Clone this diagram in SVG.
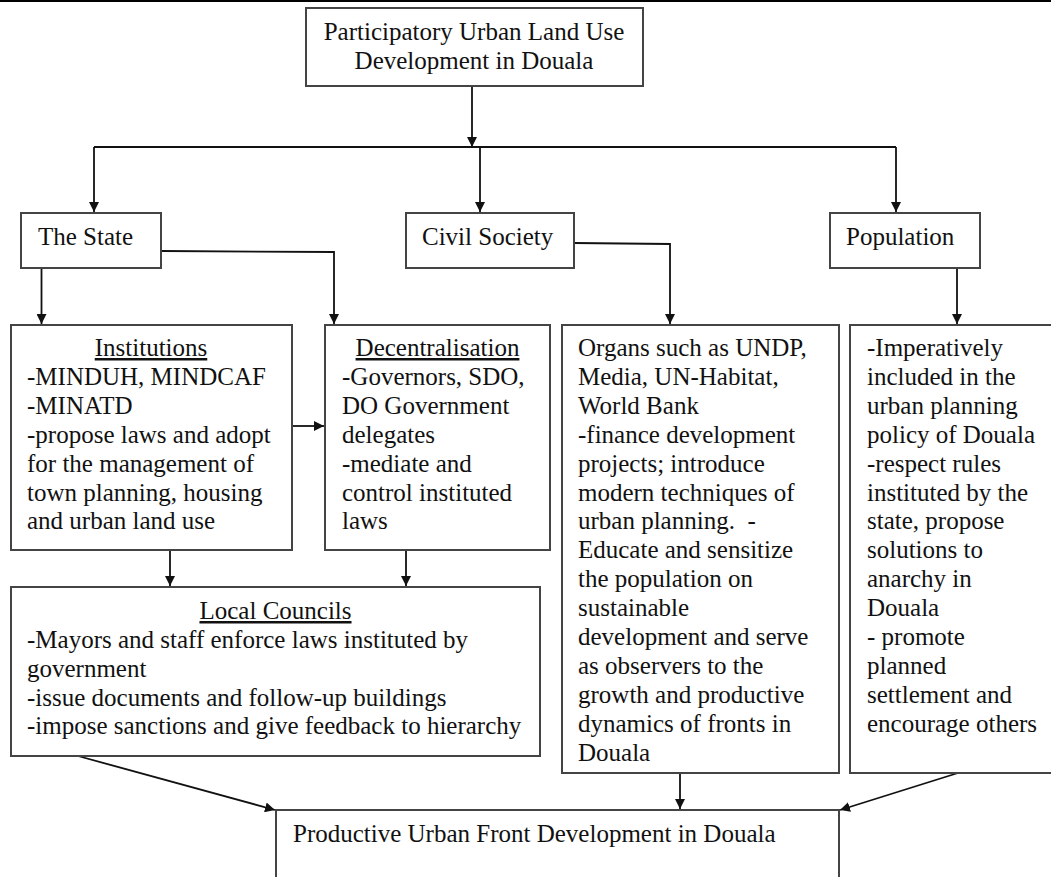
<svg xmlns="http://www.w3.org/2000/svg" width="1051" height="877" viewBox="0 0 1051 877">
<defs>
<style>
.box{fill:#fff;stroke:#444;stroke-width:2}
.t{font-family:"Liberation Serif","Times New Roman",serif;font-size:25px;fill:#111}
.c{text-anchor:middle}
.u{text-decoration:underline}
.ln{fill:none;stroke:#111;stroke-width:1.8}
</style>
<marker id="ah" viewBox="0 0 10 10" refX="10" refY="5" markerWidth="10" markerHeight="10" markerUnits="userSpaceOnUse" orient="auto">
<path d="M0,0 L10,5 L0,10 z" fill="#111"/>
</marker>
</defs>
<rect x="0" y="0" width="1051" height="877" fill="#fff"/>
<rect x="0" y="0" width="1051" height="2" fill="#000"/>

<g id="connectors">
<path class="ln" d="M472,86 V147" marker-end="url(#ah)"/>
<path class="ln" d="M94,147 H896"/>
<path class="ln" d="M94,147 V212" marker-end="url(#ah)"/>
<path class="ln" d="M480,147 V212" marker-end="url(#ah)"/>
<path class="ln" d="M896,147 V212" marker-end="url(#ah)"/>
<path class="ln" d="M41.5,268 V324" marker-end="url(#ah)"/>
<path class="ln" d="M162,251 L334,252 V324" marker-end="url(#ah)"/>
<path class="ln" d="M574,243 L670,244 V324" marker-end="url(#ah)"/>
<path class="ln" d="M957,268 V324" marker-end="url(#ah)"/>
<path class="ln" d="M292,426 H324" marker-end="url(#ah)"/>
<path class="ln" d="M170,550 V586" marker-end="url(#ah)"/>
<path class="ln" d="M406,550 V586" marker-end="url(#ah)"/>
<path class="ln" d="M78,756 L275,810" marker-end="url(#ah)"/>
<path class="ln" d="M680,773 V809" marker-end="url(#ah)"/>
<path class="ln" d="M958,773 L840,810" marker-end="url(#ah)"/>
</g>

<g id="root">
<rect class="box" x="306" y="8" width="337" height="78"/>
<text class="t c" x="474" y="40">Participatory Urban Land Use</text>
<text class="t c" x="474" y="69">Development in Douala</text>
</g>

<g id="state">
<rect class="box" x="21" y="213" width="140" height="55"/>
<text class="t" x="38" y="245">The State</text>
</g>

<g id="civil">
<rect class="box" x="406" y="213" width="168" height="55"/>
<text class="t" x="422" y="245">Civil Society</text>
</g>

<g id="population">
<rect class="box" x="830" y="213" width="150" height="55"/>
<text class="t" x="846" y="245">Population</text>
</g>

<g id="institutions">
<rect class="box" x="11" y="325" width="281" height="225"/>
<text class="t c u" x="151" y="356">Institutions</text>
<text class="t" x="27" y="385">-MINDUH, MINDCAF</text>
<text class="t" x="27" y="414">-MINATD</text>
<text class="t" x="27" y="443">-propose laws and adopt</text>
<text class="t" x="27" y="472">for the management of</text>
<text class="t" x="27" y="501">town planning, housing</text>
<text class="t" x="27" y="529">and urban land use</text>
</g>

<g id="decentralisation">
<rect class="box" x="325" y="325" width="225" height="225"/>
<text class="t c u" x="437.5" y="356">Decentralisation</text>
<text class="t" x="342" y="385">-Governors, SDO,</text>
<text class="t" x="342" y="414">DO Government</text>
<text class="t" x="342" y="443">delegates</text>
<text class="t" x="342" y="472">-mediate and</text>
<text class="t" x="342" y="501">control instituted</text>
<text class="t" x="342" y="529">laws</text>
</g>

<g id="organs">
<rect class="box" x="562" y="325" width="277" height="448"/>
<text class="t" x="578" y="356">Organs such as UNDP,</text>
<text class="t" x="578" y="385">Media, UN-Habitat,</text>
<text class="t" x="578" y="414">World Bank</text>
<text class="t" x="578" y="443">-finance development</text>
<text class="t" x="578" y="472">projects; introduce</text>
<text class="t" x="578" y="501">modern techniques of</text>
<text class="t" x="578" y="529" xml:space="preserve">urban planning.  -</text>
<text class="t" x="578" y="558">Educate and sensitize</text>
<text class="t" x="578" y="587">the population on</text>
<text class="t" x="578" y="616">sustainable</text>
<text class="t" x="578" y="645">development and serve</text>
<text class="t" x="578" y="674">as observers to the</text>
<text class="t" x="578" y="703">growth and productive</text>
<text class="t" x="578" y="732">dynamics of fronts in</text>
<text class="t" x="578" y="761">Douala</text>
</g>

<g id="population-roles">
<rect class="box" x="850" y="325" width="215" height="448"/>
<text class="t" x="867" y="356">-Imperatively</text>
<text class="t" x="867" y="385">included in the</text>
<text class="t" x="867" y="414">urban planning</text>
<text class="t" x="867" y="443">policy of Douala</text>
<text class="t" x="867" y="472">-respect rules</text>
<text class="t" x="867" y="501">instituted by the</text>
<text class="t" x="867" y="529">state, propose</text>
<text class="t" x="867" y="558">solutions to</text>
<text class="t" x="867" y="587">anarchy in</text>
<text class="t" x="867" y="616">Douala</text>
<text class="t" x="867" y="645">- promote</text>
<text class="t" x="867" y="674">planned</text>
<text class="t" x="867" y="703">settlement and</text>
<text class="t" x="867" y="732">encourage others</text>
</g>

<g id="local-councils">
<rect class="box" x="11" y="587" width="529" height="169"/>
<text class="t c u" x="275.5" y="619">Local Councils</text>
<text class="t" x="27" y="648">-Mayors and staff enforce laws instituted by</text>
<text class="t" x="27" y="677">government</text>
<text class="t" x="27" y="706">-issue documents and follow-up buildings</text>
<text class="t" x="27" y="734">-impose sanctions and give feedback to hierarchy</text>
</g>

<g id="outcome">
<rect class="box" x="276" y="810" width="563" height="80"/>
<text class="t" x="293" y="842">Productive Urban Front Development in Douala</text>
</g>
</svg>
